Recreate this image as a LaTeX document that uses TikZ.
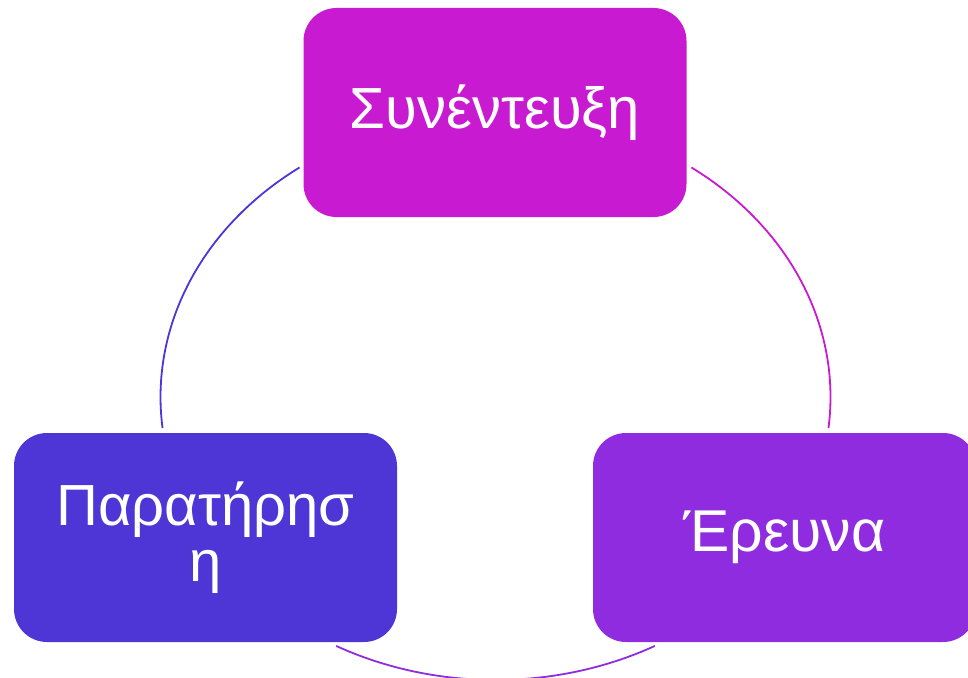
\documentclass[tikz,border=0pt]{standalone}
\usepackage{fontspec}
\setmainfont{Liberation Sans}
\definecolor{magentabox}{RGB}{200,26,208}
\definecolor{bluebox}{RGB}{77,53,214}
\definecolor{purplebox}{RGB}{143,44,224}
\begin{document}
\begin{tikzpicture}[x=1pt,y=-1pt]
\useasboundingbox (0,0) rectangle (968,677);
\tikzset{box/.style={rounded corners=33pt, minimum width=383pt, minimum height=209pt, inner sep=0pt, text=white, align=center}}
\tikzset{cycle/.style={line width=1.8pt}}
\coordinate (O) at (495.5,397);
\node[box, fill=magentabox, font=\fontsize{58}{56}\selectfont] (interview) at (495,112.5) {Συνέντευξη};
\node[box, fill=bluebox, font=\fontsize{58}{56}\selectfont] (observation) at (205.5,537.5) {Παρατήρησ\\η};
\node[box, fill=purplebox, font=\fontsize{59}{56}\selectfont] (research) at (784.5,537.5) {Έρευνα};
\draw[cycle, magentabox] ([shift={(-54.2:335 and 283)}]O) arc[start angle=-54.2, end angle=6.3, x radius=335, y radius=283];
\draw[cycle, purplebox] ([shift={(61.6:335 and 283)}]O) arc[start angle=61.6, end angle=118.4, x radius=335, y radius=283];
\draw[cycle, bluebox] ([shift={(173.7:335 and 283)}]O) arc[start angle=173.7, end angle=234.2, x radius=335, y radius=283];
\end{tikzpicture}
\end{document}
